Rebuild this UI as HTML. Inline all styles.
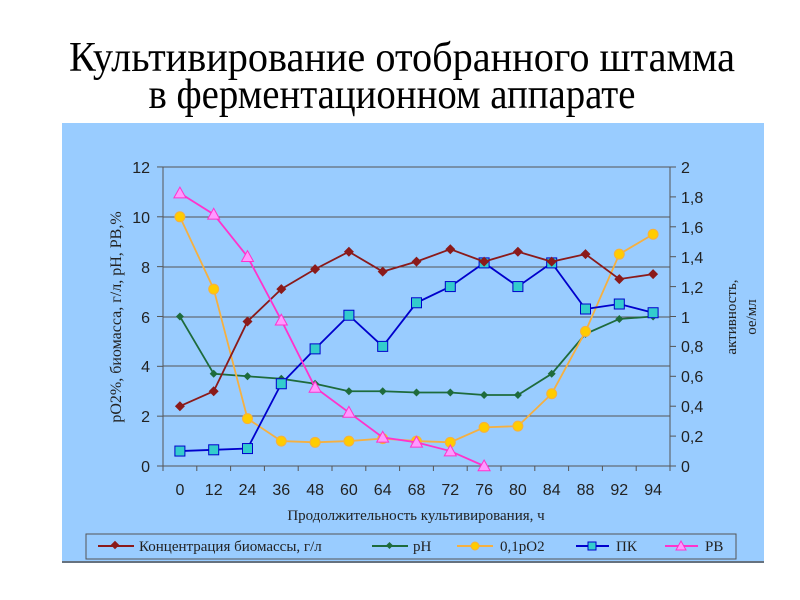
<!DOCTYPE html>
<html><head><meta charset="utf-8"><style>
html,body{margin:0;padding:0;background:#fff;width:800px;height:600px;overflow:hidden}
</style></head><body>
<svg width="800" height="600" xmlns="http://www.w3.org/2000/svg" font-family="Liberation Sans, sans-serif">
<rect width="800" height="600" fill="#fff"/>
<text x="402" y="71" font-family="Liberation Serif, serif" font-size="42" text-anchor="middle" textLength="666" lengthAdjust="spacingAndGlyphs">Культивирование отобранного штамма</text>
<text x="392" y="108" font-family="Liberation Serif, serif" font-size="42" text-anchor="middle" textLength="487" lengthAdjust="spacingAndGlyphs">в ферментационном аппарате</text>
<rect x="62" y="123" width="702" height="440" fill="#99ccff"/>
<line x1="62" y1="562" x2="764" y2="562" stroke="#555" stroke-width="1.5"/>
<g stroke="#555" stroke-width="1">
<line x1="163" y1="167" x2="670" y2="167"/><line x1="163" y1="217" x2="670" y2="217"/><line x1="163" y1="267" x2="670" y2="267"/><line x1="163" y1="317" x2="670" y2="317"/><line x1="163" y1="366" x2="670" y2="366"/><line x1="163" y1="416" x2="670" y2="416"/>
<line x1="163" y1="167" x2="163" y2="466"/><line x1="670" y1="167" x2="670" y2="466"/><line x1="163" y1="466" x2="670" y2="466"/>
</g>
<g stroke="#555" stroke-width="1" id="ticks"></g>
<g font-size="16" fill="#222" text-anchor="end">
<text x="150" y="472">0</text><text x="150" y="422">2</text><text x="150" y="372">4</text><text x="150" y="323">6</text><text x="150" y="273">8</text><text x="150" y="223">10</text><text x="150" y="173">12</text>
</g>
<g font-size="16" fill="#222" text-anchor="start">
<text x="681" y="472">0</text><text x="681" y="442">0,2</text><text x="681" y="412">0,4</text><text x="681" y="382">0,6</text><text x="681" y="352">0,8</text><text x="681" y="323">1</text><text x="681" y="293">1,2</text><text x="681" y="263">1,4</text><text x="681" y="233">1,6</text><text x="681" y="203">1,8</text><text x="681" y="173">2</text>
</g>
<g font-size="16" fill="#222" text-anchor="middle" id="xl"></g>
<text x="416" y="520" font-family="Liberation Serif, serif" font-size="15" text-anchor="middle" fill="#222">Продолжительность культивирования, ч</text>
<text transform="translate(121,317) rotate(-90)" font-family="Liberation Serif, serif" font-size="16" text-anchor="middle" fill="#222">pO2%, биомасса, г/л, pH, PB,%</text>
<text transform="translate(736,317) rotate(-90)" font-family="Liberation Serif, serif" font-size="15" text-anchor="middle" fill="#222">активность,</text>
<text transform="translate(756,317) rotate(-90)" font-family="Liberation Serif, serif" font-size="15" text-anchor="middle" fill="#222">ое/мл</text>
<g id="series"></g>
<rect x="86" y="534" width="650" height="25" fill="#99ccff" stroke="#555"/>
<g font-family="Liberation Serif, serif" font-size="15" fill="#222">
<line x1="98" y1="546" x2="134" y2="546" stroke="#8b1a1a" stroke-width="2"/><rect x="112" y="542" width="6" height="6" transform="rotate(45 115 545)" fill="#8b1a1a"/><text x="139" y="551">Концентрация биомассы, г/л</text>
<line x1="372" y1="546" x2="408" y2="546" stroke="#1e6b3c" stroke-width="2"/><rect x="387" y="543" width="5" height="5" transform="rotate(45 389.5 545.5)" fill="#1e6b3c"/><text x="413" y="551">pH</text>
<line x1="457" y1="546" x2="493" y2="546" stroke="#f5b041" stroke-width="2"/><circle cx="475" cy="546" r="4" fill="#ffcc00" stroke="#f5b041"/><text x="500" y="551">0,1pO2</text>
<line x1="576" y1="546" x2="609" y2="546" stroke="#0000cc" stroke-width="2"/><rect x="588" y="542" width="8" height="8" fill="#33cccc" stroke="#0000cc"/><text x="616" y="551">ПК</text>
<line x1="665" y1="546" x2="698" y2="546" stroke="#ff33cc" stroke-width="2"/><polygon points="681,541 686,550 676,550" fill="#ff99ff" stroke="#ff33cc"/><text x="705" y="551">PB</text>
</g>
<script>
(function(){
var ns="http://www.w3.org/2000/svg";
function X(i){return 163+33.8*(i+0.5);}
function Y(v){return 466-v*24.92;}
var labs=[0,12,24,36,48,60,64,68,72,76,80,84,88,92,94];
var xl=document.getElementById('xl'),tk=document.getElementById('ticks');
function el(t,a,p){var e=document.createElementNS(ns,t);for(var k in a)e.setAttribute(k,a[k]);p.appendChild(e);return e;}
labs.forEach(function(l,i){var t=el('text',{x:X(i),y:495},xl);t.textContent=l;});
for(var i=0;i<=15;i++){var x=163+33.8*i;el('line',{x1:x,y1:466,x2:x,y2:471},tk);}
for(var v=0;v<=12;v+=2){el('line',{x1:157,y1:Y(v),x2:163,y2:Y(v)},tk);}
for(var j=0;j<=10;j++){var y=466-j*29.9;el('line',{x1:670,y1:y,x2:676,y2:y},tk);}
var S=document.getElementById('series');
var data=[
 {c:'#1e6b3c',m:'d',s:4,v:[6,3.7,3.6,3.5,3.3,3.0,3.0,2.95,2.95,2.85,2.85,3.7,5.3,5.9,6.0]},
 {c:'#f5b041',f:'#ffcc00',m:'o',s:5,v:[10,7.1,1.9,1.0,0.95,1.0,1.1,1.0,0.95,1.55,1.6,2.9,5.4,8.5,9.3]},
 {c:'#0000cc',f:'#33cccc',m:'s',s:5,v:[0.6,0.65,0.7,3.3,4.7,6.05,4.8,6.55,7.2,8.15,7.2,8.15,6.3,6.5,6.15]},
 {c:'#8b1a1a',m:'d',s:5,v:[2.4,3.0,5.8,7.1,7.9,8.6,7.8,8.2,8.7,8.2,8.6,8.2,8.5,7.5,7.7]},
 {c:'#ff33cc',f:'#ff99ff',m:'t',s:6,v:[10.95,10.1,8.4,5.85,3.15,2.15,1.15,0.95,0.6,0]}
];
data.forEach(function(d){
 var pts=d.v.map(function(v,i){return X(i)+','+Y(v);}).join(' ');
 el('polyline',{points:pts,fill:'none',stroke:d.c,'stroke-width':1.8},S);
 d.v.forEach(function(v,i){var x=X(i),y=Y(v),s=d.s;
  if(d.m=='d')el('polygon',{points:(x)+','+(y-s)+' '+(x+s)+','+y+' '+x+','+(y+s)+' '+(x-s)+','+y,fill:d.c},S);
  else if(d.m=='o')el('circle',{cx:x,cy:y,r:s,fill:d.f,stroke:d.c},S);
  else if(d.m=='s')el('rect',{x:x-s,y:y-s,width:2*s,height:2*s,fill:d.f,stroke:d.c},S);
  else el('polygon',{points:x+','+(y-s)+' '+(x+s)+','+(y+s*0.8)+' '+(x-s)+','+(y+s*0.8),fill:d.f,stroke:d.c},S);
 });
});
})();
</script>
</svg>
</body></html>
